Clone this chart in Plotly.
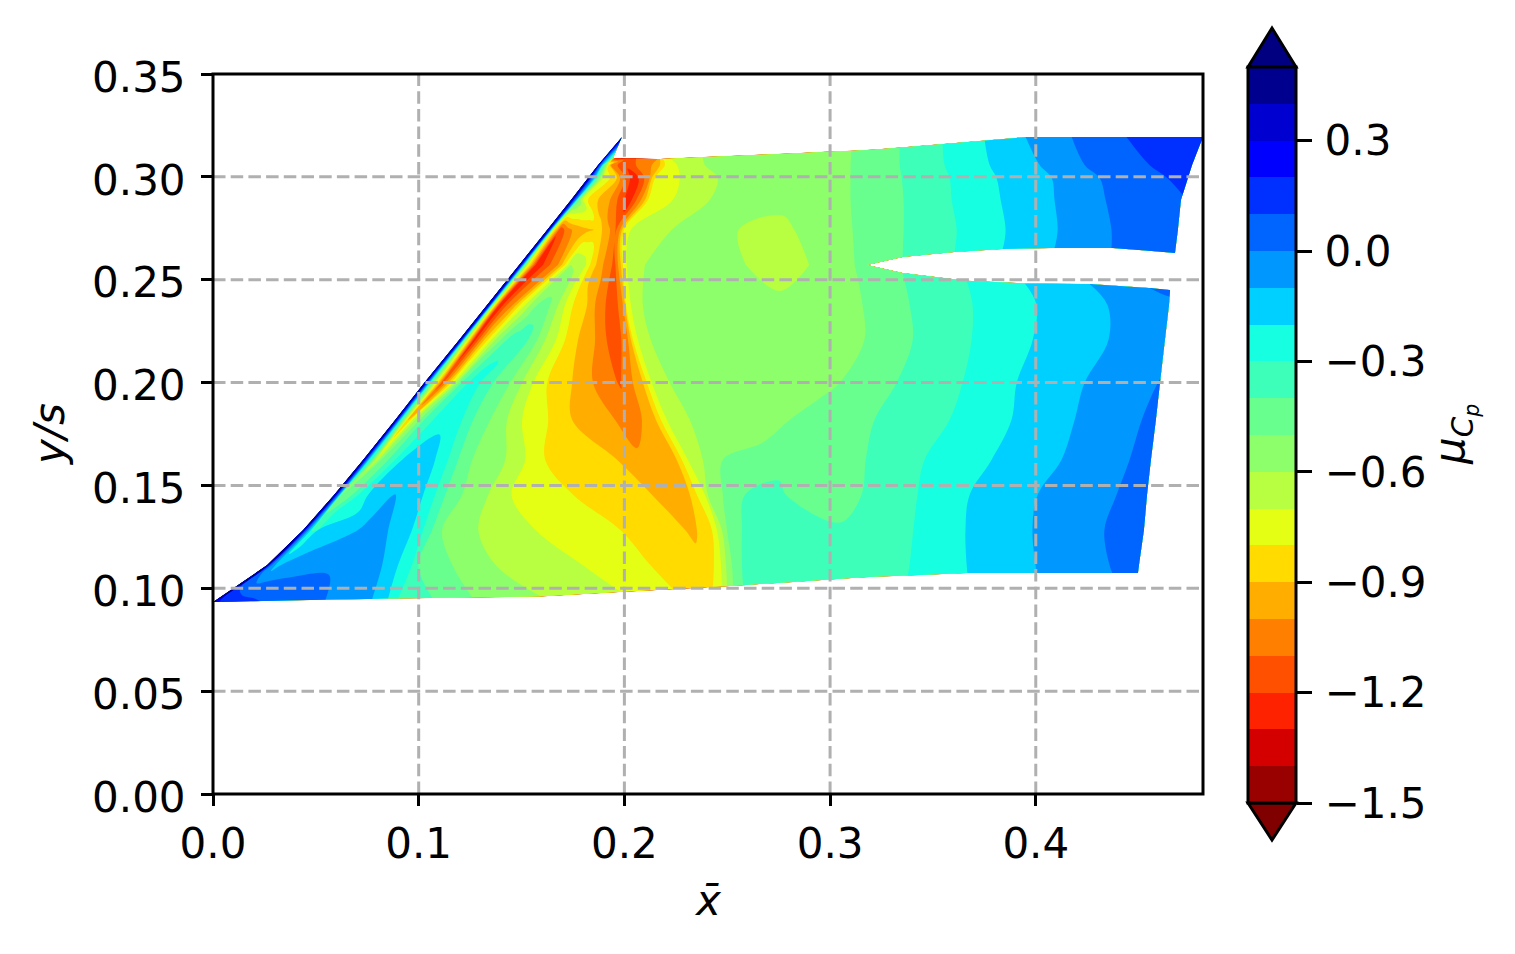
import plotly.graph_objects as go
import numpy as np

# contour levels and band colours (below-range, 20 bands, above-range)
LEVEL_START, LEVEL_END, LEVEL_STEP = -1.5, 0.5, 0.1
BAND_COLORS = ["#800000", "#990000", "#d40000", "#ff2200", "#ff5000", "#ff8000", "#ffae00", "#ffdb00",
               "#e4ff13", "#b7ff40", "#8dff6a", "#69ff8f", "#3dffba", "#16ffe1", "#00d0ff", "#0098ff",
               "#0064ff", "#0030ff", "#0000ff", "#0000d1", "#00008e", "#000080"]
CBAR_TICKS = [-1.5, -1.2, -0.9, -0.6, -0.3, 0.0, 0.3]
X_TICKS = [0.0, 0.1, 0.2, 0.3, 0.4]
Y_TICKS = [0.0, 0.05, 0.10, 0.15, 0.20, 0.25, 0.30, 0.35]

# wing outline
BOTTOM_X = [0, .0860, .1541, .2513, .3194, .3666, .4497]
BOTTOM_Y = [.0933, .0950, .0958, .1011, .1055, .1074, .1074]
SLOT_LOW_X = [0, .3180, .3354, .3607, .3860, .4093, .4361, .4653]
SLOT_LOW_Y = [.2572, .2572, .2533, .2499, .2484, .2479, .2479, .2450]
SLOT_UP_X = [0, .3180, .3354, .3607, .3841, .4093, .4370, .4677]
SLOT_UP_Y = [.2572, .2572, .2611, .2635, .2649, .2654, .2654, .2630]
TOP_X = [.1945, .2168, .3194, .3957, .4813]
TOP_Y = [.3092, .3087, .3131, .3194, .3194]
TIP_Y = [.3194, .3182]

# spanwise stations
Y_LOWER = [None, .1113, .1283, .1454, .1624, .1818, .1998, .2207, .2377, None]
Y_UPPER = [None, .2742, .2888, .2995, .3058, None]

# chordwise stations and pressure values, lower panel (below the slot)
X_L0 = [0,.0015,.0044,.0107,.0180,.0253,.0423,.0545,.0773,.0851,.0899,.1065,.1259,.1590,.1979,.2232,.2295,.2343,.2382,.2401,.2416,.2431,.2474,.2499,.2528,.2577,.2805,.3000,.3146,.3243,.3316,.3379,.3670,.4006,.4375,.4458,.4497]
Z_L0 = [.55,.22,.18,.15,.12,.09,.05,0,-.1,-.2,-.3,-.4,-.5,-.6,-.7,-.8,-.81,-.82,-.83,-.82,-.81,-.8,-.7,-.6,-.5,-.4,-.38,-.38,-.37,-.35,-.33,-.3,-.2,-.1,0,.01,.03]
X_L1 = [.0263,.0277,.0292,.0316,.0331,.0423,.0617,.0739,.0822,.0899,.0967,.0997,.1162,.1371,.1794,.2115,.2270,.2343,.2392,.2411,.2421,.2436,.2470,.2494,.2523,.2572,.2805,.3000,.3146,.3243,.3316,.3389,.3666,.4001,.4361,.4434,.4502]
Z_L1 = [.55,.1,-.05,-.15,-.1,-.05,-.02,-.05,-.1,-.2,-.3,-.4,-.5,-.6,-.7,-.8,-.81,-.815,-.82,-.815,-.81,-.8,-.7,-.6,-.5,-.4,-.37,-.37,-.36,-.34,-.32,-.3,-.2,-.1,0,.01,.02]
X_L2 = [.0438,.0452,.0467,.0486,.0506,.0511,.0705,.0773,.0851,.0967,.1021,.1065,.1113,.1288,.1565,.1979,.2173,.2295,.2319,.2333,.2353,.2426,.2450,.2474,.2499,.2572,.2805,.3000,.3063,.3170,.3267,.3408,.3660,.3986,.4336,.4409,.4526]
Z_L2 = [.55,.1,-.1,-.31,-.3,-.2,-.1,-.05,-.1,-.2,-.3,-.4,-.5,-.6,-.7,-.8,-.88,-.9,-.95,-.93,-.9,-.8,-.7,-.6,-.5,-.4,-.35,-.36,-.39,-.36,-.33,-.3,-.2,-.1,0,.01,.03]
X_L3 = [.0588,.0603,.0613,.0622,.0647,.0676,.0705,.0754,.0885,.1021,.1079,.1128,.1210,.1337,.1449,.1750,.1979,.2134,.2231,.2285,.2319,.2353,.2392,.2406,.2479,.2586,.2684,.2781,.3000,.3155,.3291,.3427,.3680,.4011,.4395,.4482,.4541]
Z_L3 = [.55,.1,-.1,-.5,-.45,-.4,-.3,-.2,-.1,-.2,-.3,-.4,-.5,-.6,-.7,-.8,-.88,-.9,-.97,-.95,-.9,-.8,-.7,-.6,-.5,-.4,-.36,-.4,-.44,-.4,-.35,-.3,-.2,-.1,0,.01,.03]
X_L4 = [.0729,.0744,.0758,.0792,.0817,.0851,.0885,.0919,.0997,.1079,.1142,.1191,.1259,.1420,.1517,.1614,.1784,.1964,.2076,.2212,.2256,.2280,.2309,.2382,.2479,.2684,.2854,.3000,.3121,.3175,.3291,.3461,.3787,.4127,.4458,.4516,.4560]
Z_L4 = [.55,.1,-.2,-.68,-.5,-.4,-.3,-.2,-.15,-.2,-.3,-.4,-.5,-.6,-.7,-.8,-.88,-.9,-.98,-.92,-.9,-.8,-.7,-.6,-.5,-.47,-.46,-.45,-.42,-.4,-.35,-.3,-.2,-.1,0,.01,.02]
X_L5 = [.0885,.0899,.0914,.0948,.0982,.1026,.1070,.1128,.1162,.1176,.1210,.1264,.1347,.1429,.1502,.1629,.1745,.1954,.2027,.2086,.2154,.2178,.2207,.2319,.2513,.2659,.2805,.2927,.3048,.3146,.3218,.3583,.3884,.4191,.4516,.4555,.4584]
Z_L5 = [.55,.1,-.3,-.9,-.6,-.4,-.3,-.25,-.23,-.26,-.3,-.4,-.5,-.6,-.7,-.8,-.9,-1.0,-1.05,-1.0,-.9,-.8,-.7,-.6,-.57,-.54,-.5,-.47,-.44,-.42,-.4,-.3,-.2,-.1,0,.01,.02]
X_L6 = [.1026,.1040,.1060,.1113,.1162,.1201,.1240,.1259,.1279,.1288,.1298,.1361,.1444,.1502,.1556,.1624,.1745,.1847,.1979,.2042,.2091,.2110,.2134,.2222,.2465,.2708,.2902,.2975,.3048,.3194,.3325,.3646,.3909,.4239,.4580,.4594,.4604]
Z_L6 = [.55,.1,-.4,-1.15,-.75,-.42,-.3,-.28,-.28,-.285,-.3,-.4,-.5,-.6,-.7,-.8,-.9,-1.0,-1.11,-1.0,-.9,-.8,-.7,-.6,-.58,-.56,-.54,-.52,-.5,-.44,-.4,-.3,-.2,-.1,-.005,0,.005]
X_L7 = [.1196,.1210,.1225,.1269,.1318,.1371,.1420,.1454,.1483,.1502,.1522,.1531,.1575,.1614,.1667,.1711,.1774,.1857,.1959,.2018,.2032,.2042,.2066,.2129,.2416,.2708,.2951,.3072,.3170,.3267,.3403,.3690,.3987,.4356,.4555,.4594,.4628]
Z_L7 = [.55,.1,-.5,-1.25,-.9,-.6,-.42,-.33,-.32,-.32,-.35,-.4,-.5,-.6,-.7,-.8,-.9,-1.0,-1.18,-1.0,-.9,-.8,-.7,-.6,-.58,-.56,-.54,-.52,-.5,-.46,-.4,-.3,-.2,-.1,-.06,-.055,-.05]
X_L8 = [.1332,.1347,.1361,.1395,.1429,.1458,.1492,.1517,.1541,.1575,.1604,.1619,.1638,.1677,.1711,.1750,.1818,.1857,.1949,.1993,.2003,.2008,.2032,.2090,.2367,.2586,.2756,.2951,.3160,.3243,.3389,.3695,.4006,.4351,.4580,.4614,.4648]
Z_L8 = [.55,.1,-.6,-1.28,-1.1,-1.0,-.8,-.7,-.6,-.5,-.47,-.47,-.5,-.6,-.7,-.8,-.9,-1.0,-1.18,-1.0,-.9,-.8,-.7,-.6,-.58,-.58,-.585,-.56,-.5,-.45,-.4,-.3,-.2,-.1,-.06,-.055,-.05]
X_L9 = [.1488,.1502,.1522,.1575,.1638,.1677,.1696,.1711,.1726,.1740,.1774,.1794,.1813,.1833,.1862,.1896,.1920,.1940,.1954,.1969,.1983,.1993,.2012,.2100,.2343,.2586,.2756,.2902,.3121,.3180,.3354,.3666,.3948,.4264,.4555,.4604,.4653]
Z_L9 = [.55,.1,-.6,-1.29,-1.1,-1.0,-.9,-.8,-.7,-.6,-.62,-.65,-.7,-.8,-.9,-1.0,-1.05,-1.1,-1.12,-1.0,-.9,-.8,-.7,-.6,-.57,-.6,-.63,-.6,-.5,-.47,-.4,-.3,-.2,-.1,0,.02,.04]

# upper panel (above the slot)
X_U0 = [.1488,.1502,.1522,.1575,.1638,.1677,.1696,.1711,.1726,.1740,.1774,.1794,.1813,.1833,.1862,.1896,.1920,.1940,.1954,.1969,.1983,.1993,.2012,.2100,.2343,.2586,.2756,.2902,.3121,.3180,.3354,.3607,.3841,.4093,.4370,.4531,.4677]
Z_U0 = [.55,.1,-.6,-1.29,-1.1,-1.0,-.9,-.8,-.7,-.6,-.62,-.65,-.7,-.8,-.9,-1.0,-1.05,-1.1,-1.12,-1.0,-.9,-.8,-.7,-.6,-.57,-.6,-.63,-.6,-.5,-.47,-.4,-.3,-.2,-.1,0,.04,.07]
X_U1 = [.1624,.1638,.1653,.1687,.1721,.1745,.1770,.1794,.1818,.1833,.1852,.1872,.1891,.1910,.1930,.1940,.1949,.1954,.1959,.1979,.1988,.1998,.2032,.2231,.2392,.2552,.2684,.2829,.3111,.3218,.3359,.3617,.3855,.4108,.4370,.4555,.4691]
Z_U1 = [.55,.1,-.7,-1.18,-1.05,-1.0,-.97,-.94,-.92,-.91,-.9,-.88,-.9,-.95,-1.0,-1.03,-1.07,-1.09,-1.11,-1.0,-.9,-.8,-.7,-.6,-.57,-.6,-.64,-.6,-.5,-.46,-.4,-.3,-.2,-.1,0,.04,.07]
X_U2 = [.1740,.1755,.1765,.1770,.1774,.1777,.1779,.1782,.1784,.1786,.1789,.1791,.1794,.1796,.1799,.1823,.1872,.1930,.2022,.2081,.2100,.2115,.2236,.2416,.2586,.2732,.2854,.2951,.3102,.3218,.3359,.3593,.3831,.4093,.4341,.4653,.4706]
Z_U2 = [.55,.1,-.1,-.3,-.4,-.45,-.5,-.52,-.55,-.57,-.6,-.62,-.65,-.67,-.7,-.8,-.9,-1.0,-1.26,-1.0,-.9,-.8,-.7,-.6,-.58,-.57,-.56,-.54,-.5,-.45,-.4,-.3,-.2,-.1,0,.07,.09]
X_U3 = [.1823,.1838,.1852,.1862,.1867,.1872,.1877,.1879,.1881,.1884,.1886,.1889,.1891,.1894,.1896,.1930,.1964,.1979,.2047,.2124,.2134,.2149,.2270,.2455,.2611,.2756,.2902,.3000,.3102,.3218,.3350,.3583,.3811,.4079,.4312,.4642,.4740]
Z_U3 = [.55,.1,-.1,-.3,-.4,-.45,-.5,-.52,-.55,-.57,-.6,-.62,-.65,-.67,-.7,-.8,-.9,-1.0,-1.28,-1.0,-.9,-.8,-.7,-.6,-.57,-.56,-.55,-.53,-.5,-.45,-.4,-.3,-.2,-.1,0,.1,.13]
X_U4 = [.1872,.1881,.1891,.1896,.1901,.1906,.1908,.1911,.1913,.1916,.1918,.1920,.1923,.1925,.1928,.1930,.1935,.1940,.2003,.2134,.2173,.2197,.2256,.2392,.2562,.2708,.2854,.2975,.3102,.3218,.3340,.3558,.3777,.4020,.4239,.4555,.4760]
Z_U4 = [.55,.1,-.1,-.3,-.4,-.5,-.53,-.56,-.6,-.63,-.66,-.7,-.75,-.8,-.85,-.9,-1.0,-1.05,-1.17,-1.0,-.9,-.8,-.7,-.6,-.58,-.57,-.56,-.54,-.5,-.45,-.4,-.3,-.2,-.1,0,.1,.15]
X_U5 = [.1988,.1983,.1945,.1947,.1950,.1954,.1959,.1964,.1969,.1979,.1988,.1998,.2003,.2008,.2012,.2017,.2022,.2027,.2037,.2163,.2173,.2188,.2222,.2382,.2538,.2684,.2829,.2975,.3106,.3218,.3340,.3549,.3753,.3952,.4176,.4443,.4813]
Z_U5 = [.55,.3,-.5,-.8,-1.0,-1.15,-1.25,-1.28,-1.28,-1.28,-1.26,-1.22,-1.2,-1.19,-1.18,-1.16,-1.15,-1.14,-1.12,-1.0,-.9,-.8,-.7,-.6,-.58,-.57,-.56,-.54,-.5,-.45,-.4,-.3,-.2,-.1,0,.1,.19]

X_LOWER = np.array([X_L0, X_L1, X_L2, X_L3, X_L4, X_L5, X_L6, X_L7, X_L8, X_L9])
Z_LOWER = np.array([Z_L0, Z_L1, Z_L2, Z_L3, Z_L4, Z_L5, Z_L6, Z_L7, Z_L8, Z_L9])
X_UPPER = np.array([X_U0, X_U1, X_U2, X_U3, X_U4, X_U5])
Z_UPPER = np.array([Z_U0, Z_U1, Z_U2, Z_U3, Z_U4, Z_U5])

yl = np.zeros_like(X_LOWER)
for j, v in enumerate(Y_LOWER):
    if v is not None:
        yl[j] = v
yl[0] = np.interp(X_LOWER[0], BOTTOM_X, BOTTOM_Y)
yl[-1] = np.interp(X_LOWER[-1], SLOT_LOW_X, SLOT_LOW_Y)

yu = np.zeros_like(X_UPPER)
for j, v in enumerate(Y_UPPER):
    if v is not None:
        yu[j] = v
yu[0] = np.interp(X_UPPER[0], SLOT_UP_X, SLOT_UP_Y)
yu[-1] = np.interp(X_UPPER[-1], TOP_X, TOP_Y)
yu[-1][:2] = TIP_Y

W, H = 1515, 954
L, R, T, B = 213, 312, 74, 160
PW, PH = W - L - R, H - T - B
FONT = "DejaVu Sans"
FS = 42

n = len(BAND_COLORS)
contour_scale = [[i / (n - 1), c] for i, c in enumerate(BAND_COLORS)]
inner = BAND_COLORS[1:-1]
bar_scale = []
for i, c in enumerate(inner):
    bar_scale += [[i / len(inner), c], [(i + 1) / len(inner), c]]

fig = go.Figure()
# values read exactly on a band edge are kept just off the contour level
LEVEL_NUDGE = 0.0007


def add_panel(name, x, y, z):
    a = list(range(x.shape[1]))
    b = list(range(x.shape[0]))
    axis = dict(showgrid=False, showline=False, startline=False, endline=False,
                showticklabels="none", smoothing=0, minorgridcount=0)
    fig.add_trace(go.Carpet(carpet=name, a=a, b=b, x=x.tolist(), y=y.tolist(),
                            aaxis=axis, baxis=axis))
    fig.add_trace(go.Contourcarpet(carpet=name, a=a, b=b, z=(z + LEVEL_NUDGE).tolist(), autocontour=False,
                                   contours=dict(start=LEVEL_START, end=LEVEL_END, size=LEVEL_STEP,
                                                 coloring="fill", showlines=False),
                                   line=dict(width=0), colorscale=contour_scale, showscale=False))


add_panel("lower", X_LOWER, yl, Z_LOWER)
add_panel("upper", X_UPPER, yu, Z_UPPER)

# colour bar
bar_x0 = (1248 - L) / PW
bar_bottom = (H - B - 803) / PH
bar_top = (H - B - 67) / PH
bar_w = 48 / PW
fig.add_trace(go.Scatter(
    x=[None, None], y=[None, None], mode="markers", hoverinfo="skip", showlegend=False,
    marker=dict(color=[LEVEL_START, LEVEL_END], cmin=LEVEL_START, cmax=LEVEL_END, colorscale=bar_scale,
                showscale=True,
                colorbar=dict(x=bar_x0, xanchor="left", xpad=0, ypad=0, y=(bar_bottom + bar_top) / 2,
                              yanchor="middle", len=bar_top - bar_bottom, lenmode="fraction",
                              thickness=48, thicknessmode="pixels", outlinewidth=3, outlinecolor="black",
                              tickvals=CBAR_TICKS,
                              ticktext=["\u200a" + f"{v:.1f}".replace("-", "\u2212") for v in CBAR_TICKS],
                              ticks="outside", ticklen=15, tickwidth=3, tickcolor="black",
                              tickfont=dict(family=FONT, size=FS, color="black")))))

shapes = []
for v in X_TICKS[1:]:
    shapes.append(dict(type="line", xref="x", yref="y", x0=v, x1=v, y0=0, y1=0.35, layer="above",
                       line=dict(color="#b0b0b0", width=3, dash="12.5px,5.2px")))
for v in Y_TICKS[1:-1]:
    shapes.append(dict(type="line", xref="x", yref="y", x0=0, x1=0.4813, y0=v, y1=v, layer="above",
                       line=dict(color="#b0b0b0", width=3, dash="12.5px,5.2px")))
# axes frame, centred on the plot-area edge
shapes.append(dict(type="rect", xref="paper", yref="paper", x0=0, x1=1, y0=0, y1=1, layer="above",
                   line=dict(color="black", width=3), fillcolor="rgba(0,0,0,0)"))
mid = bar_x0 + bar_w / 2
shapes.append(dict(type="path", xref="paper", yref="paper", layer="above",
                   path=f"M {bar_x0} {bar_top} L {bar_x0 + bar_w} {bar_top} L {mid} {bar_top + 39 / PH} Z",
                   fillcolor=BAND_COLORS[-1], line=dict(color="black", width=3)))
shapes.append(dict(type="path", xref="paper", yref="paper", layer="above",
                   path=f"M {bar_x0} {bar_bottom} L {bar_x0 + bar_w} {bar_bottom} L {mid} {bar_bottom - 37 / PH} Z",
                   fillcolor=BAND_COLORS[0], line=dict(color="black", width=3)))

ax = dict(showgrid=False, zeroline=False, showline=False,
          ticks="outside", ticklen=11, tickwidth=3, tickcolor="black", layer="above traces",
          tickfont=dict(family=FONT, size=FS, color="black"))
title_font = dict(family=FONT, size=FS, color="black")

fig.update_layout(
    width=W, height=H, autosize=False, margin=dict(l=L, r=R, t=T, b=B, pad=0),
    paper_bgcolor="white", plot_bgcolor="white", showlegend=False, shapes=shapes,
    font=dict(family=FONT, size=FS, color="black"),
    xaxis=dict(range=[0, 0.4813], tickvals=X_TICKS, tickformat=".1f", constrain="domain", ticklabelstandoff=2, **ax),
    yaxis=dict(range=[0, 0.35], tickvals=Y_TICKS, tickformat=".2f", ticklabelstandoff=7, ticklabelshift=3, **ax),
    annotations=[
        dict(text="<i>x\u0304</i>", xref="paper", yref="paper", x=(708 - L) / PW, y=(H - B - 900) / PH,
             xanchor="center", yanchor="middle", showarrow=False, font=title_font),
        dict(text="<i>y/s</i>", xref="paper", yref="paper", x=(49 - L) / PW, y=(H - B - 435) / PH,
             xanchor="center", yanchor="middle", textangle=-90, showarrow=False, font=title_font),
        dict(text="<i>\u03bc</i><sub><i>C</i><sub><i>p</i></sub></sub>", xref="paper", yref="paper",
             x=(1454 - L) / PW, y=(H - B - 435) / PH, xanchor="center", yanchor="middle", textangle=-90,
             showarrow=False, font=title_font),
    ],
)

fig.write_html("out.html", config={"displayModeBar": False}, post_script="document.body.style.margin='0';")
